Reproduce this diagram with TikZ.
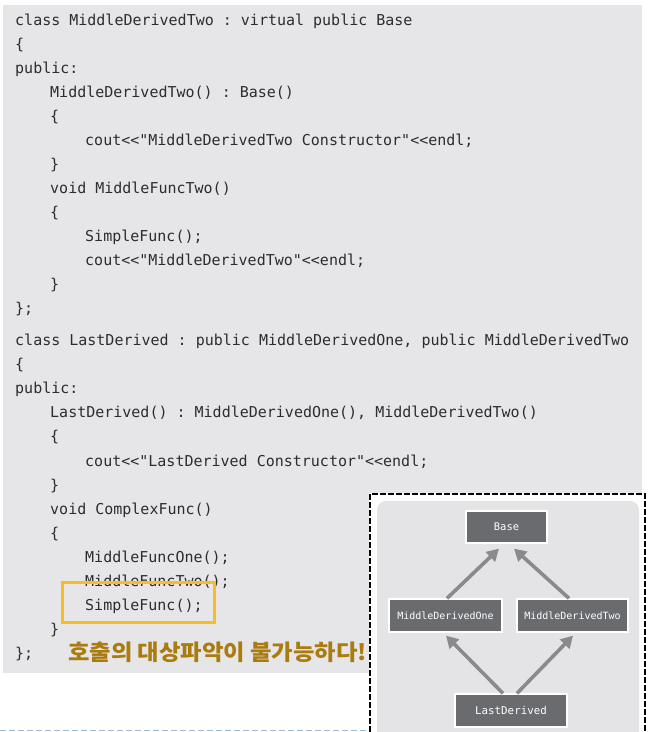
\documentclass[tikz,border=0pt]{standalone}
\usepackage{fontspec}
\setmonofont{DejaVu Sans Mono}
\newfontfamily\krfont{Noto Sans CJK KR}
\usetikzlibrary{arrows.meta}
\definecolor{codebg}{RGB}{230,230,232}
\definecolor{codefg}{RGB}{45,45,45}
\definecolor{krgold}{RGB}{170,123,14}
\definecolor{hlbox}{RGB}{247,190,30}
\definecolor{blueline}{RGB}{160,188,208}
\definecolor{panelbg}{RGB}{228,228,230}
\definecolor{nodefill}{RGB}{106,107,111}
\definecolor{arrowgray}{RGB}{138,138,140}
\tikzset{
  codeline/.style={anchor=base west, inner sep=0pt, text=codefg, font=\ttfamily\fontsize{15}{18}\selectfont},
  classbox/.style={rectangle, fill=nodefill, draw=white, line width=1.3pt, text=white,
     preaction={draw=gray!60, line width=2.6pt}, inner sep=0pt, font=\ttfamily\fontsize{10}{12}\selectfont},
  inherit/.style={draw=arrowgray, line width=3.6pt, -{Triangle[length=12pt,width=13pt]}}
}
\begin{document}
\begin{tikzpicture}[x=1pt,y=-1pt]
\useasboundingbox (0,0) rectangle (649,732);
\clip (0,0) rectangle (649,732);
% code background
\fill[codebg] (3,5) rectangle (642,673);
% block 1
\node[codeline] (a1) at (15,25) {class MiddleDerivedTwo : virtual public Base};
\node[codeline] (a2) at (15,49) {\{};
\node[codeline] (a3) at (15,73) {public:};
\node[codeline] (a4) at (50,97) {MiddleDerivedTwo() : Base()};
\node[codeline] (a5) at (50,121) {\{};
\node[codeline] (a6) at (85,145) {cout<<"MiddleDerivedTwo Constructor"<<endl;};
\node[codeline] (a7) at (50,169) {\}};
\node[codeline] (a8) at (50,193) {void MiddleFuncTwo()};
\node[codeline] (a9) at (50,217) {\{};
\node[codeline] (a10) at (85,241) {SimpleFunc();};
\node[codeline] (a11) at (85,265) {cout<<"MiddleDerivedTwo"<<endl;};
\node[codeline] (a12) at (50,289) {\}};
\node[codeline] (a13) at (15,313) {\};};
% block 2
\node[codeline] (b1) at (15,345) {class LastDerived : public MiddleDerivedOne, public MiddleDerivedTwo};
\node[codeline] (b2) at (15,369) {\{};
\node[codeline] (b3) at (15,393) {public:};
\node[codeline] (b4) at (50,417) {LastDerived() : MiddleDerivedOne(), MiddleDerivedTwo()};
\node[codeline] (b5) at (50,441) {\{};
\node[codeline] (b6) at (85,466) {cout<<"LastDerived Constructor"<<endl;};
\node[codeline] (b7) at (50,490) {\}};
\node[codeline] (b8) at (50,514) {void ComplexFunc()};
\node[codeline] (b9) at (50,538) {\{};
\node[codeline] (b10) at (85,562) {MiddleFuncOne();};
\node[codeline] (b11) at (85,586) {MiddleFuncTwo();};
\node[codeline] (b12) at (85,610) {SimpleFunc();};
\node[codeline] (b13) at (50,634) {\}};
\node[codeline] (b14) at (15,658) {\};};
% highlight
\node[draw=hlbox, line width=3pt, minimum width=152pt, minimum height=40pt, inner sep=0pt] (hl) at (138.5,602) {};
\node[anchor=base west, inner sep=0pt, text=krgold, font=\krfont\bfseries\fontsize{22}{24}\selectfont] (kr) at (68,660) {\scalebox{1.06}[1]{호출의 대상파악이 불가능하다!}};
% bottom dashed line
\draw[blueline, line width=1pt, dash pattern=on 6pt off 3pt] (0,730) -- (366,730);
% diagram panel
\fill[white] (369,493) rectangle (652,740);
\draw[black, line width=1.8pt, dash pattern=on 6pt off 2pt] (370,740) -- (370,494) -- (645,494) -- (645,740);
\fill[panelbg, rounded corners=9pt] (377,501) rectangle (639,760);
% class nodes
\node[classbox, minimum width=81pt, minimum height=32pt, font=\ttfamily\fontsize{10.5}{12}\selectfont] (base) at (506.5,527) {Base};
\node[classbox, minimum width=113pt, minimum height=33pt] (mdo) at (445.5,615.5) {MiddleDerivedOne};
\node[classbox, minimum width=111pt, minimum height=33pt] (mdt) at (572.5,615.5) {MiddleDerivedTwo};
\node[classbox, minimum width=112pt, minimum height=33pt, font=\ttfamily\fontsize{10.8}{12}\selectfont] (ld) at (511,710.5) {LastDerived};
% inheritance arrows
\draw[inherit] ([xshift=1.5pt]mdo.north) -- ([xshift=-7.5pt,yshift=-5pt]base.south);
\draw[inherit] ([xshift=-3.5pt]mdt.north) -- ([xshift=7.5pt,yshift=-5pt]base.south);
\draw[inherit] ([xshift=-8pt]ld.north) -- ([xshift=0.5pt,yshift=-3pt]mdo.south);
\draw[inherit] ([xshift=6pt]ld.north) -- ([xshift=0.5pt,yshift=-3pt]mdt.south);
\end{tikzpicture}
\end{document}
